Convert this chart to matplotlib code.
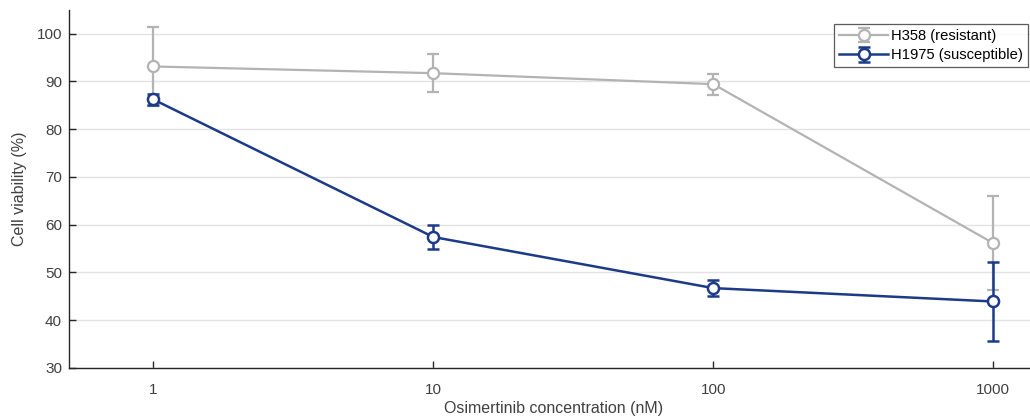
import numpy as np
import matplotlib
matplotlib.use('Agg')
import matplotlib.pyplot as plt

# data
conc = [1, 10, 100, 1000]
tick_labels = ['1', '10', '100', '1000']

h358_mean = [93.1, 91.7, 89.4, 56.1]
h358_err = [8.2, 4.0, 2.2, 9.8]

h1975_mean = [86.2, 57.4, 46.7, 43.9]
h1975_err = [1.2, 2.5, 1.6, 8.3]

grey = '#b3b3b3'
navy = '#1c3a87'

plt.rcParams['font.family'] = ['Liberation Sans', 'DejaVu Sans']

fig = plt.figure(figsize=(10.30, 4.19), dpi=100)
ax = fig.add_axes([0.067, 0.122, 0.94, 0.855])

ax.errorbar(conc, h358_mean, yerr=h358_err, color=grey, lw=1.6,
            marker='o', ms=8, mfc='white', mec=grey, mew=1.6,
            capsize=4, capthick=1.6, elinewidth=1.6,
            label='H358 (resistant)', zorder=3)
ax.errorbar(conc, h1975_mean, yerr=h1975_err, color=navy, lw=1.8,
            marker='o', ms=8, mfc='white', mec=navy, mew=1.8,
            capsize=4, capthick=1.8, elinewidth=1.8,
            label='H1975 (susceptible)', zorder=4)

ax.set_xscale('log')
ax.set_xlim(0.5, 1435)
ax.set_ylim(30, 105)
ax.set_xticks(conc)
ax.set_xticklabels(tick_labels)
ax.xaxis.set_minor_locator(matplotlib.ticker.NullLocator())
ax.set_yticks(np.arange(30, 101, 10))

ax.grid(axis='y', color='#e3e3e3', lw=1)
ax.set_axisbelow(True)

for s in ['top', 'right']:
    ax.spines[s].set_visible(False)
for s in ['left', 'bottom']:
    ax.spines[s].set_color('#262626')
    ax.spines[s].set_linewidth(1.0)

ax.tick_params(direction='in', length=5, width=1, colors='#262626',
               labelcolor='#404040', labelsize=11)
ax.tick_params(axis='x', pad=11)
ax.tick_params(axis='y', pad=5)

ax.set_xlabel('Osimertinib concentration (nM)', fontsize=11.5, color='#404040', labelpad=3)
ax.set_ylabel('Cell viability (%)', fontsize=11.5, color='#404040', labelpad=7)

leg = ax.legend(loc='upper right', bbox_to_anchor=(1028 / 1030, 1 - 24 / 419),
                bbox_transform=fig.transFigure, fontsize=10.6,
                frameon=True, fancybox=False, borderpad=0.35, handlelength=3.3,
                handletextpad=0.2, labelspacing=0.35, borderaxespad=0)
leg.get_frame().set_edgecolor('#333333')
leg.get_frame().set_linewidth(0.9)

fig.savefig('out.png', dpi=100)
